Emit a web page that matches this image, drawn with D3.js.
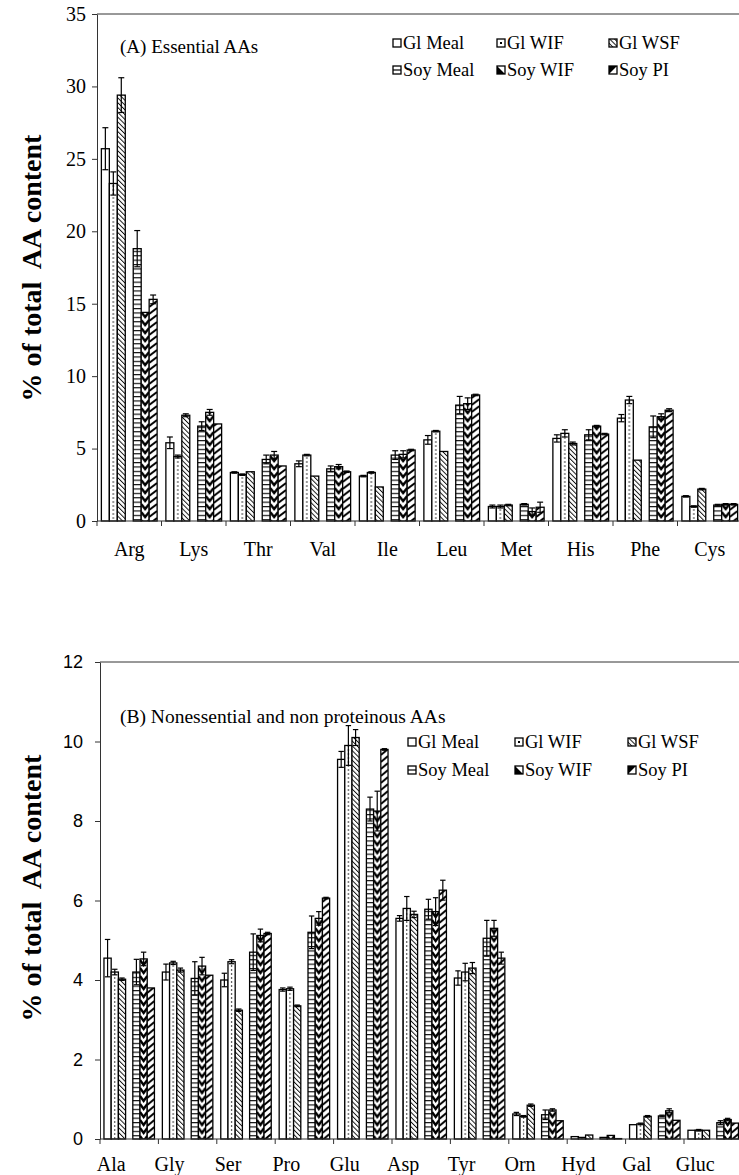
<!DOCTYPE html>
<html lang="en">
<head>
<meta charset="UTF-8" />
<title>% of total AA content</title>
<script src="https://d3js.org/d3.v7.min.js"></script>
<style>
  body { margin:0; padding:0; background:#fff; }
  svg { display:block; background:#fff; }
</style>
</head>
<body>
<svg width="739" height="1175"></svg>
<script>
const SERIF = '"Liberation Serif","Times New Roman",serif';
const SANS = '"Liberation Sans",Arial,sans-serif';

// series, in bar order inside each category
const seriesNames = ["Gl Meal", "Gl WIF", "Gl WSF", "Soy Meal", "Soy WIF", "Soy PI"];

// (A) essential AAs
const catsA = ["Arg", "Lys", "Thr", "Val", "Ile", "Leu", "Met", "His", "Phe", "Cys"];
const valsA = [
  [25.7, 23.3, 29.4, 18.8, 14.4, 15.3],
  [5.4, 4.45, 7.3, 6.55, 7.5, 6.7],
  [3.35, 3.2, 3.4, 4.25, 4.55, 3.8],
  [3.95, 4.55, 3.1, 3.6, 3.75, 3.4],
  [3.1, 3.35, 2.35, 4.55, 4.6, 4.9],
  [5.6, 6.2, 4.8, 8.0, 8.1, 8.7],
  [1.0, 1.0, 1.1, 1.15, 0.65, 0.95],
  [5.7, 6.05, 5.35, 5.95, 6.55, 6.0],
  [7.1, 8.35, 4.2, 6.5, 7.2, 7.65],
  [1.7, 1.0, 2.2, 1.1, 1.15, 1.15]
];
const errsA = [
  [1.45, 0.8, 1.2, 1.25, 0, 0.3],
  [0.4, 0.1, 0.1, 0.3, 0.2, 0],
  [0.05, 0.05, 0, 0.3, 0.25, 0],
  [0.2, 0.05, 0, 0.2, 0.15, 0.05],
  [0.05, 0.05, 0, 0.3, 0.25, 0.05],
  [0.3, 0.05, 0, 0.6, 0.4, 0.05],
  [0.1, 0.1, 0.05, 0.05, 0.25, 0.35],
  [0.25, 0.25, 0.1, 0.35, 0.05, 0.05],
  [0.25, 0.25, 0, 0.75, 0.2, 0.1],
  [0.05, 0.05, 0.05, 0.05, 0.05, 0.05]
];
const ticksA = [0, 5, 10, 15, 20, 25, 30, 35];

// (B) nonessential and non proteinous AAs
const catsB = ["Ala", "Gly", "Ser", "Pro", "Glu", "Asp", "Tyr", "Orn", "Hyd", "Gal", "Gluc"];
const valsB = [
  [4.55, 4.2, 4.02, 4.2, 4.53, 3.8],
  [4.2, 4.43, 4.25, 4.04, 4.35, 4.12],
  [4.0, 4.46, 3.24, 4.7, 5.12, 5.17],
  [3.76, 3.78, 3.35, 5.2, 5.55, 6.06],
  [9.55, 9.9, 10.1, 8.3, 8.25, 9.8],
  [5.55, 5.8, 5.65, 5.78, 5.72, 6.26],
  [4.05, 4.2, 4.3, 5.05, 5.3, 4.55],
  [0.63, 0.57, 0.85, 0.61, 0.73, 0.46],
  [0.06, 0.04, 0.1, 0.04, 0.09, 0.01],
  [0.36, 0.38, 0.57, 0.58, 0.71, 0.47],
  [0.22, 0.22, 0.22, 0.41, 0.49, 0.4]
];
const errsB = [
  [0.47, 0.07, 0.03, 0.32, 0.17, 0],
  [0.2, 0.04, 0.05, 0.42, 0.22, 0],
  [0.17, 0.05, 0.03, 0.46, 0.16, 0.03],
  [0.04, 0.04, 0.02, 0.41, 0.17, 0.02],
  [0.2, 0.5, 0.2, 0.3, 0.5, 0.02],
  [0.07, 0.3, 0.08, 0.25, 0.35, 0.25],
  [0.18, 0.22, 0.14, 0.45, 0.2, 0.15],
  [0.04, 0.02, 0.03, 0.12, 0.03, 0],
  [0, 0, 0, 0, 0, 0],
  [0, 0.02, 0.02, 0.02, 0.05, 0],
  [0, 0.02, 0, 0.05, 0.03, 0]
];
const ticksB = [0, 2, 4, 6, 8, 10, 12];

const panels = [
  { key:"A", cats:catsA, vals:valsA, errs:errsA, ticks:ticksA, max:35,
    left:97, top:14, bottom:521, band:64.5, tickFont:SERIF, tickSize:20, tickPad:6,
    labOff:28, labShift:0, titleSize:19, titleY:46, ytY:268,
    title:"(A) Essential AAs", legX:[393,497,609], legY:[43,70] },
  { key:"B", cats:catsB, vals:valsB, errs:errsB, ticks:ticksB, max:12,
    left:100, top:662, bottom:1139, band:58.4, tickFont:SANS, tickSize:18, tickPad:12,
    labOff:25, labShift:-18, titleSize:19.5, titleY:716, ytY:888,
    title:"(B) Nonessential and non proteinous AAs", legX:[408,515,628], legY:[742,770] }
];

const svg = d3.select("svg");
const defs = svg.append("defs");

// generic hatch patterns (alignment does not matter)
let hp = defs.append("pattern").attr("id","hatch").attr("patternUnits","userSpaceOnUse")
  .attr("width",3.4).attr("height",3.4).attr("patternTransform","rotate(-45)");
hp.append("rect").attr("width",3.4).attr("height",3.4).attr("fill","#fff");
hp.append("line").attr("x1",0.5).attr("y1",0).attr("x2",0.5).attr("y2",3.4).attr("stroke","#000").attr("stroke-width",0.9);

let sp = defs.append("pattern").attr("id","hstripe").attr("patternUnits","userSpaceOnUse")
  .attr("width",10).attr("height",4.4);
sp.append("rect").attr("width",10).attr("height",4.4).attr("fill","#fff");
sp.append("line").attr("x1",0).attr("y1",0.6).attr("x2",10).attr("y2",0.6).attr("stroke","#000").attr("stroke-width",1.1);

function addBarPatterns(p, x0, x1) {
  const step = x0.step(), bw = x1.bandwidth();
  const px = s => x0(p.cats[0]) + x1(s);

  // Gl WIF: dotted centre line
  let d = defs.append("pattern").attr("id", p.key + "wif").attr("patternUnits","userSpaceOnUse")
    .attr("x", px("Gl WIF")).attr("y", 0).attr("width", step).attr("height", 4);
  d.append("rect").attr("width", step).attr("height", 4).attr("fill","#fff");
  d.append("circle").attr("cx", bw/2).attr("cy", 2).attr("r", 0.75).attr("fill","#000");

  // Soy WIF: chevrons
  d = defs.append("pattern").attr("id", p.key + "chev").attr("patternUnits","userSpaceOnUse")
    .attr("x", px("Soy WIF")).attr("y", 0).attr("width", step).attr("height", 8);
  d.append("rect").attr("width", step).attr("height", 8).attr("fill","#fff");
  [-1, 0, 1].forEach(k => {
    d.append("path").attr("d", `M0,${k*8} L${bw/2},${k*8+5} L${bw},${k*8}`)
      .attr("fill","none").attr("stroke","#000").attr("stroke-width",2.4);
  });

  // Soy PI: thick diagonals
  d = defs.append("pattern").attr("id", p.key + "diag").attr("patternUnits","userSpaceOnUse")
    .attr("x", px("Soy PI")).attr("y", 0).attr("width", step).attr("height", 7);
  d.append("rect").attr("width", step).attr("height", 7).attr("fill","#fff");
  [-1, 0, 1, 2].forEach(k => {
    d.append("line").attr("x1", 0).attr("y1", k*7 + 6).attr("x2", bw).attr("y2", k*7)
      .attr("stroke","#000").attr("stroke-width",2);
  });
}

function drawLegendIcon(g, i, x, y) {
  const s = 8;
  const ic = g.append("g").attr("transform", `translate(${x},${y - s/2})`);
  ic.append("rect").attr("width", s).attr("height", s).attr("fill", i === 2 ? "url(#hatch)" : "#fff");
  if (i === 1) ic.append("rect").attr("x", s/2 - 1).attr("y", s/2 - 1).attr("width", 2).attr("height", 2).attr("fill","#000");
  if (i === 3) ic.append("line").attr("x1",0).attr("x2",s).attr("y1",s/2).attr("y2",s/2).attr("stroke","#000").attr("stroke-width",1.2);
  if (i === 4) ic.append("path").attr("d", `M0,0 L${s},${s} L0,${s}Z`).attr("fill","#000");
  if (i === 5) ic.append("path").attr("d", `M0,0 L${s},0 L0,${s}Z`).attr("fill","#000");
  ic.append("rect").attr("width", s).attr("height", s).attr("fill","none").attr("stroke","#000").attr("stroke-width",1.3);
}

panels.forEach(p => {
  const right = p.left + p.band * p.cats.length;
  const x0 = d3.scaleBand().domain(p.cats).range([p.left, right]).padding(0);
  const slots = ["Gl Meal","Gl WIF","Gl WSF","gap","Soy Meal","Soy WIF","Soy PI"];
  const x1 = d3.scaleBand().domain(slots).range([0, x0.bandwidth()]).paddingInner(0).paddingOuter(0.55);
  const y = d3.scaleLinear().domain([0, p.max]).range([p.bottom, p.top]);
  addBarPatterns(p, x0, x1);

  const fills = ["#fff", `url(#${p.key}wif)`, "url(#hatch)", "url(#hstripe)", `url(#${p.key}chev)`, `url(#${p.key}diag)`];
  const g = svg.append("g");

  // frame top + axes
  g.append("line").attr("x1", p.left).attr("x2", right + 20).attr("y1", p.top).attr("y2", p.top)
    .attr("stroke","#333").attr("stroke-width",1);

  const yAxis = g.append("g").attr("transform", `translate(${p.left},0)`)
    .call(d3.axisLeft(y).tickValues(p.ticks).tickSize(5).tickSizeOuter(0).tickPadding(p.tickPad));
  yAxis.select(".domain").attr("stroke","#333");
  yAxis.selectAll(".tick line").attr("stroke","#333");
  yAxis.selectAll(".tick text").style("font-family", p.tickFont).style("font-size", p.tickSize + "px").attr("fill","#000");

  // bars
  const flat = [];
  p.cats.forEach((c, i) => seriesNames.forEach((s, j) => flat.push({ c, s, j, v: p.vals[i][j], e: p.errs[i][j] })));

  g.selectAll(".bar").data(flat).enter().append("rect")
    .attr("x", d => x0(d.c) + x1(d.s))
    .attr("width", x1.bandwidth())
    .attr("y", d => y(d.v))
    .attr("height", d => y(0) - y(d.v))
    .attr("fill", d => fills[d.j])
    .attr("stroke","#000").attr("stroke-width",1.3);

  // error bars
  const cap = x1.bandwidth() * 0.75;
  const eb = g.selectAll(".err").data(flat.filter(d => d.e > 0)).enter().append("g")
    .attr("stroke","#000").attr("stroke-width",1.2);
  eb.append("line")
    .attr("x1", d => x0(d.c) + x1(d.s) + x1.bandwidth()/2)
    .attr("x2", d => x0(d.c) + x1(d.s) + x1.bandwidth()/2)
    .attr("y1", d => y(d.v - d.e)).attr("y2", d => y(d.v + d.e));
  [1, -1].forEach(sgn => {
    eb.append("line")
      .attr("x1", d => x0(d.c) + x1(d.s) + x1.bandwidth()/2 - cap/2)
      .attr("x2", d => x0(d.c) + x1(d.s) + x1.bandwidth()/2 + cap/2)
      .attr("y1", d => y(d.v + sgn*d.e)).attr("y2", d => y(d.v + sgn*d.e));
  });

  // x axis line, boundary ticks, labels
  g.append("line").attr("x1", p.left).attr("x2", right + 20).attr("y1", y(0)).attr("y2", y(0))
    .attr("stroke","#333").attr("stroke-width",1);
  g.selectAll(".xt").data(p.cats).enter().append("line")
    .attr("x1", d => x0(d)).attr("x2", d => x0(d))
    .attr("y1", y(0)).attr("y2", y(0) + 5).attr("stroke","#333");
  g.selectAll(".xl").data(p.cats).enter().append("text")
    .style("font-family", SERIF).style("font-size","20px")
    .attr("x", d => x0(d) + x0.bandwidth()/2 + p.labShift).attr("y", y(0) + p.labOff)
    .attr("text-anchor","middle").attr("dominant-baseline","central")
    .text(d => d);

  // y title
  g.append("text").style("font-family", SERIF).style("font-weight","bold")
    .style("font-size","28px").style("white-space","pre")
    .attr("transform", `translate(31,${p.ytY}) rotate(-90)`)
    .attr("text-anchor","middle").attr("dominant-baseline","central")
    .text("% of total  AA content");

  // panel title
  g.append("text").style("font-family", SERIF).style("font-size", p.titleSize + "px")
    .attr("x", 120).attr("y", p.titleY).attr("dominant-baseline","central")
    .text(p.title);

  // legend: 3 columns x 2 rows
  seriesNames.forEach((s, i) => {
    const lx = p.legX[i % 3], ly = p.legY[Math.floor(i / 3)];
    drawLegendIcon(g, i, lx, ly);
    g.append("text").style("font-family", SERIF).style("font-size","18.5px")
      .attr("x", lx + 10).attr("y", ly).attr("dominant-baseline","central").text(s);
  });
});
</script>
</body>
</html>
